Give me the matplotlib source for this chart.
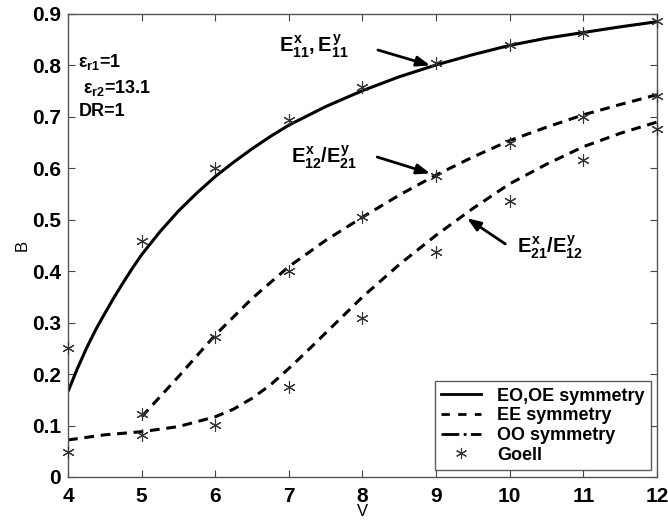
"""Normalized propagation constant B vs V for the rectangular dielectric guide."""

import matplotlib
matplotlib.use("Agg")
import matplotlib.pyplot as plt
from matplotlib.lines import Line2D

plt.rcParams["font.family"] = ["Liberation Sans", "DejaVu Sans"]
plt.rcParams["mathtext.fontset"] = "custom"
plt.rcParams["mathtext.rm"] = "Liberation Sans:bold"
plt.rcParams["mathtext.it"] = "Liberation Sans:bold"
plt.rcParams["mathtext.bf"] = "Liberation Sans:bold"

# EO,OE symmetry (E11) curve
v_eo = [4, 4.125, 4.25, 4.375, 4.5, 4.625, 4.75, 4.875, 5, 5.25, 5.5, 5.75, 6, 6.25,
        6.5, 6.75, 7, 7.5, 8, 8.5, 9, 9.5, 10, 10.5, 11, 11.5, 12]
b_eo = [0.166, 0.21, 0.25, 0.286, 0.318, 0.349, 0.378, 0.406, 0.432, 0.477, 0.517,
        0.552, 0.584, 0.612, 0.638, 0.662, 0.684, 0.72, 0.751, 0.778, 0.801, 0.821,
        0.839, 0.853, 0.864, 0.875, 0.885]

# EE symmetry (E12/E21) curve
v_ee = [5, 5.5, 6, 6.5, 7, 7.5, 8, 8.5, 9, 9.5, 10, 10.5, 11, 11.5, 12]
b_ee = [0.117, 0.195, 0.276, 0.347, 0.409, 0.46, 0.505, 0.548, 0.587, 0.622,
        0.654, 0.68, 0.704, 0.724, 0.743]

# OO symmetry (E21/E12) curve
v_oo = [4, 4.5, 5, 5.5, 6, 6.25, 6.5, 6.75, 7, 7.25, 7.5, 8, 8.5, 9, 9.5, 10, 10.5,
        11, 11.5, 12]
b_oo = [0.072, 0.082, 0.088, 0.098, 0.117, 0.132, 0.153, 0.179, 0.211, 0.245,
        0.28, 0.35, 0.413, 0.47, 0.522, 0.57, 0.608, 0.642, 0.668, 0.69]

# Goell's data points
v_goell = [4, 5, 6, 7, 8, 9, 10, 11, 12,
           5, 6, 7, 8, 9, 10, 11, 12,
           4, 5, 6, 7, 8, 9, 10, 11, 12]
b_goell = [0.251, 0.459, 0.600, 0.694, 0.758, 0.805, 0.840, 0.864, 0.886,
           0.122, 0.272, 0.401, 0.505, 0.586, 0.649, 0.700, 0.741,
           0.048, 0.082, 0.102, 0.174, 0.310, 0.437, 0.537, 0.616, 0.677]

legend_labels = ["EO,OE symmetry", "EE symmetry", "OO symmetry", "Goell"]

dash = (0, (3.2, 2.2))

fig = plt.figure(figsize=(6.68, 5.24), dpi=100)
ax = fig.add_axes([0.1018, 0.0897, 0.8817, 0.8836])

ax.plot(v_eo, b_eo, color="black", lw=2.2, solid_capstyle="butt", solid_joinstyle="round")
ax.plot(v_ee, b_ee, color="black", lw=2.2, linestyle=dash)
ax.plot(v_oo, b_oo, color="black", lw=2.2, linestyle=dash)
ax.plot(v_goell, b_goell, linestyle="none", marker=(6, 2, 0), markersize=9,
        markeredgewidth=0.8, color="#333333", clip_on=False, zorder=5)

ax.set_xlim(4, 12)
ax.set_ylim(0, 0.9)
ax.set_xticks(range(4, 13))
ax.set_yticks([0, 0.1, 0.2, 0.3, 0.4, 0.5, 0.6, 0.7, 0.8, 0.9])
ax.set_yticklabels(["0", "0.1", "0.2", "0.3", "0.4", "0.5", "0.6", "0.7", "0.8", "0.9"])
ax.tick_params(direction="in", length=5, width=0.8, top=True, right=True,
               labelsize=15, color="#444444")
ax.tick_params(axis="x", pad=7)
ax.tick_params(axis="y", pad=5)
for lab in ax.get_xticklabels() + ax.get_yticklabels():
    lab.set_fontweight("bold")
for sp in ax.spines.values():
    sp.set_color("#555555")
    sp.set_linewidth(1.0)

ax.set_xlabel("V", fontsize=12, labelpad=-1)
ax.set_ylabel("B", fontsize=12, labelpad=2)

# parameter notes
ax.text(4.14, 0.806, "ε$_{r1}$=1", fontsize=13, fontweight="bold", ha="left", va="center")
ax.text(4.2, 0.757, "ε$_{r2}$=13.1", fontsize=13, fontweight="bold", ha="left", va="center")
ax.text(4.14, 0.71, "DR=1", fontsize=13, fontweight="bold", ha="left", va="center")

arrow = dict(arrowstyle="-|>,head_length=0.8,head_width=0.3", color="black", lw=2,
             shrinkA=0, shrinkB=0)
ax.text(6.87, 0.81, r"$E^{x}_{11},E^{y}_{11}$", fontsize=14.5, ha="left", va="bottom")
ax.annotate("", xy=(8.92, 0.80), xytext=(8.21, 0.83), arrowprops=arrow)

ax.text(7.03, 0.595, r"$E^{x}_{12}/E^{y}_{21}$", fontsize=14.5, ha="left", va="bottom")
ax.annotate("", xy=(8.92, 0.59), xytext=(8.2, 0.622), arrowprops=arrow)

ax.text(10.1, 0.42, r"$E^{x}_{21}/E^{y}_{12}$", fontsize=14.5, ha="left", va="bottom")
ax.annotate("", xy=(9.42, 0.503), xytext=(9.94, 0.453), arrowprops=arrow)

handles = [
    Line2D([], [], color="black", lw=2),
    Line2D([], [], color="black", lw=2, linestyle=(0, (3, 3))),
    Line2D([], [], color="black", lw=2, linestyle="-."),
    Line2D([], [], color="#333333", linestyle="none", marker=(6, 2, 0),
           markersize=8, markeredgewidth=0.8),
]
leg = ax.legend(handles, legend_labels, loc="lower right", bbox_to_anchor=(0.99, 0.015),
                prop={"weight": "bold", "size": 13}, frameon=True, fancybox=False,
                handlelength=2.2, handletextpad=0.9, labelspacing=0.15,
                borderpad=0.35, borderaxespad=0)
leg.get_frame().set_edgecolor("#333333")
leg.get_frame().set_linewidth(1.0)

fig.savefig("out.png", dpi=100)
